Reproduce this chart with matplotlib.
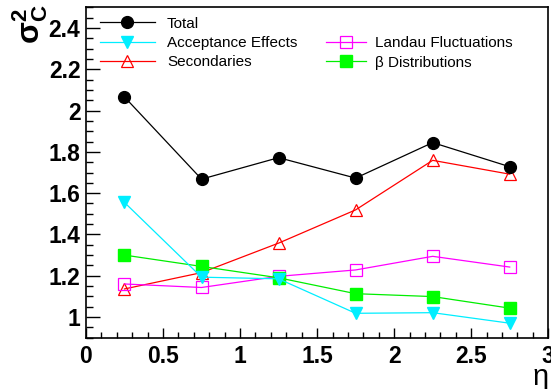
import matplotlib
matplotlib.use("Agg")
import matplotlib.pyplot as plt
from matplotlib.ticker import MultipleLocator

plt.rcParams['font.family'] = ['Liberation Sans', 'DejaVu Sans']
plt.rcParams['mathtext.fontset'] = 'custom'
plt.rcParams['mathtext.rm'] = 'Liberation Sans'
plt.rcParams['mathtext.it'] = 'Liberation Sans'
plt.rcParams['mathtext.bf'] = 'Liberation Sans:bold'
plt.rcParams['mathtext.sf'] = 'Liberation Sans:bold'

# eta bin centres
eta = [0.25, 0.75, 1.25, 1.75, 2.25, 2.75]

total = [2.066, 1.668, 1.772, 1.673, 1.845, 1.728]
acceptance = [1.555, 1.193, 1.185, 1.018, 1.021, 0.970]
secondaries = [1.136, 1.215, 1.358, 1.519, 1.759, 1.692]
landau = [1.160, 1.143, 1.197, 1.228, 1.294, 1.242]
beta = [1.300, 1.245, 1.190, 1.113, 1.099, 1.043]

fig = plt.figure(figsize=(5.51, 3.89), dpi=100)
ax = fig.add_axes([0.156, 0.132, 0.839, 0.849])

h_tot, = ax.plot(eta, total, 'o-', color='black', lw=0.9, ms=8.5, zorder=6, label='Total')
h_sec, = ax.plot(eta, secondaries, '^-', color='red', mfc='none', mew=0.9, lw=0.9, ms=9, zorder=3, label='Secondaries')
h_lan, = ax.plot(eta, landau, 's-', color='magenta', mfc='none', mew=0.9, lw=0.9, ms=8.5, zorder=4, label='Landau Fluctuations')
h_bet, = ax.plot(eta, beta, 's-', color='#00ee00', mfc='#00ff00', mec='#00ff00', lw=0.9, ms=8, zorder=4, label='β Distributions')
h_acc, = ax.plot(eta, acceptance, 'v-', color='#00eeff', mfc='#00eeff', mec='#00eeff', lw=0.9, ms=8, zorder=5, label='Acceptance Effects')

ax.set_xlim(0, 3)
ax.set_ylim(0.9, 2.5)
ax.xaxis.set_minor_locator(MultipleLocator(0.1))
ax.yaxis.set_minor_locator(MultipleLocator(0.05))
ax.set_xticks([0, 0.5, 1, 1.5, 2, 2.5, 3])
ax.set_xticklabels(['0', '0.5', '1', '1.5', '2', '2.5', '3'])
ax.set_yticks([1, 1.2, 1.4, 1.6, 1.8, 2, 2.2, 2.4])
ax.set_yticklabels(['1', '1.2', '1.4', '1.6', '1.8', '2', '2.2', '2.4'])

ax.tick_params(axis='both', which='both', direction='in', top=False, right=False)
ax.tick_params(axis='y', which='major', length=10, width=1, pad=4)
ax.tick_params(axis='y', which='minor', length=5, width=1)
ax.tick_params(axis='x', which='major', length=7, width=1, pad=5)
ax.tick_params(axis='x', which='minor', length=4, width=1)
for lab in ax.get_xticklabels() + ax.get_yticklabels():
    lab.set_fontsize(16.5)
    lab.set_fontweight('bold')
for s in ax.spines.values():
    s.set_linewidth(1.2)

fig.text(0.055, 0.99, r'$\mathsf{\sigma^{2}_{C}}$', rotation=90,
         fontsize=23, ha='center', va='top')
fig.text(0.995, -0.006, 'η', fontsize=21, ha='right', va='bottom')

leg1 = ax.legend(handles=[h_tot, h_acc, h_sec], loc='upper left', bbox_to_anchor=(0.01, 1.0),
                 frameon=False, fontsize=11, handlelength=3.6, handletextpad=0.8,
                 labelspacing=0.35, borderaxespad=0.2)
ax.add_artist(leg1)
ax.legend(handles=[h_lan, h_bet], loc='upper left', bbox_to_anchor=(0.5, 0.94),
          frameon=False, fontsize=11, handlelength=2.6, handletextpad=0.6,
          labelspacing=0.35, borderaxespad=0.2)

fig.savefig('out.png', dpi=100)
